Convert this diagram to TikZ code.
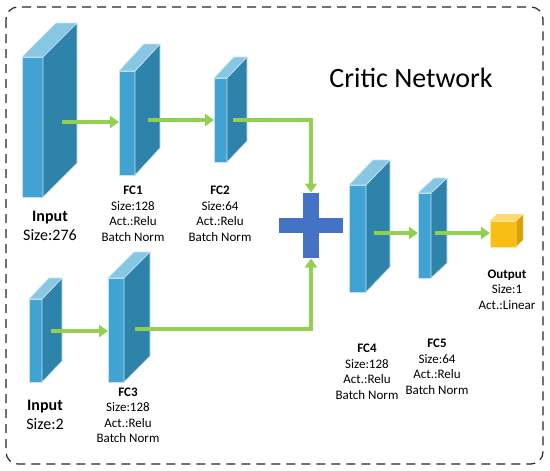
\documentclass[tikz,border=0pt]{standalone}
\usepackage{fontspec}
\setmainfont{Carlito}
\usetikzlibrary{arrows.meta,calc}
\definecolor{bfront}{RGB}{64,163,210}
\definecolor{bside}{RGB}{46,131,171}
\definecolor{btop}{RGB}{136,199,228}
\definecolor{gfront}{RGB}{248,190,20}
\definecolor{gside}{RGB}{222,160,0}
\definecolor{gtop}{RGB}{255,218,110}
\definecolor{plusblue}{RGB}{68,114,196}
\definecolor{arrgreen}{RGB}{146,208,80}
\tikzset{
  frontface/.style={rectangle, fill=bfront, draw=white!70!bfront, line width=0.6pt, inner sep=0pt, outer sep=0pt},
  sideface/.style={fill=bside, draw=white!70!bfront, line width=0.6pt},
  topface/.style={fill=btop, draw=white!70!bfront, line width=0.6pt},
  garrow/.style={draw=arrgreen, line width=4pt, -{Triangle[length=9pt,width=12pt]}},
  lbl/.style={align=center, inner sep=0pt, font=\fontsize{13}{15.5}\selectfont},
  inlbl/.style={align=center, inner sep=0pt, font=\fontsize{16}{19}\selectfont},
  border/.style={draw=black!85, line width=1.2pt, dash pattern=on 9pt off 6pt, rounded corners=12pt}
}
% name, cx, cy, w, h, dx, dy
\newcommand\slab[7]{%
  \node[frontface, minimum width=#4pt, minimum height=#5pt] (#1) at (#2,#3) {};
  \filldraw[sideface] (#1.north east) -- ++(#6,-#7) -- ++(0,#5) -- (#1.south east) -- cycle;
  \filldraw[topface] (#1.north west) -- ++(#6,-#7) -- ++(#4,0) -- (#1.north east) -- cycle;
}
\begin{document}
\begin{tikzpicture}[x=1pt,y=-1pt]
\useasboundingbox (0,0) rectangle (550,471);
\draw[border] (6,7) rectangle (543,464);

\node[font=\fontsize{28}{32}\selectfont, inner sep=0pt] (title) at (411,78) {Critic Network};

% slabs
\slab{in1}{32.5}{127}{21}{140}{34}{34}
\slab{fc1}{127}{123}{16}{104}{25}{27}
\slab{fc2}{220.5}{120}{13}{84}{20}{21}
\slab{in2}{35.5}{340.5}{13}{83}{20}{21}
\slab{fc3}{116}{330}{16}{104}{26}{26}
\slab{fc4}{357.5}{238.5}{17}{107}{24}{25}
\slab{fc5}{424.5}{235.5}{13}{85}{16}{15}

% output cube
\node[rectangle, fill=gfront, draw=white!60!gfront, line width=0.5pt, minimum width=26pt, minimum height=26pt, inner sep=0pt, outer sep=0pt] (out) at (503,234) {};
\filldraw[fill=gside, draw=white!60!gfront, line width=0.5pt] (out.north east) -- ++(7,-7) -- ++(0,26) -- (out.south east) -- cycle;
\filldraw[fill=gtop, draw=white!60!gfront, line width=0.5pt] (out.north west) -- ++(7,-7) -- ++(26,0) -- (out.north east) -- cycle;

% plus
\node[coordinate] (plus) at (311,225.5) {};
\fill[plusblue] ($(plus)+(-8,-32.5)$) rectangle ($(plus)+(8,32.5)$);
\fill[plusblue] ($(plus)+(-32,-7.5)$) rectangle ($(plus)+(32,7.5)$);
\node[coordinate] (plustop) at ($(plus)+(0,-33)$) {};
\node[coordinate] (plusbot) at ($(plus)+(0,33)$) {};

% arrows
\draw[garrow] ([xshift=19pt,yshift=5pt]in1.east) coordinate (a1) -- (a1 -| fc1.west);
\draw[garrow] ([xshift=13pt,yshift=3pt]fc1.east) coordinate (a2) -- (a2 -| fc2.west);
\draw[garrow] ([xshift=6pt]fc2.east) -| (plustop);
\draw[garrow] ([xshift=9pt,yshift=9.5pt]in2.east) coordinate (a3) -- (a3 -| fc3.west);
\draw[garrow] ([xshift=11pt,yshift=1pt]fc3.east) -| (plusbot);
\draw[garrow] ([xshift=8pt,yshift=5.5pt]fc4.east) coordinate (a4) -- (a4 -| fc5.west);
\draw[garrow] ([xshift=4pt,yshift=2.5pt]fc5.east) coordinate (a5) -- (a5 -| out.west);

% labels
\node[inlbl] (in1lbl) at (50,225.5) {\textbf{Input}\\Size:276};
\node[lbl] (fc1lbl) at (133,214) {\textbf{FC1}\\Size:128\\Act.:Relu\\Batch Norm};
\node[lbl] (fc2lbl) at (220,214) {\textbf{FC2}\\Size:64\\Act.:Relu\\Batch Norm};
\node[inlbl] (in2lbl) at (45,414.5) {\textbf{Input}\\Size:2};
\node[lbl] (fc3lbl) at (128,415.5) {\textbf{FC3}\\Size:128\\Act.:Relu\\Batch Norm};
\node[lbl] (fc4lbl) at (367,372) {\textbf{FC4}\\Size:128\\Act.:Relu\\Batch Norm};
\node[lbl] (fc5lbl) at (437,367) {\textbf{FC5}\\Size:64\\Act.:Relu\\Batch Norm};
\node[lbl] (outlbl) at (507,289.5) {\textbf{Output}\\Size:1\\Act.:Linear};
\end{tikzpicture}
\end{document}
